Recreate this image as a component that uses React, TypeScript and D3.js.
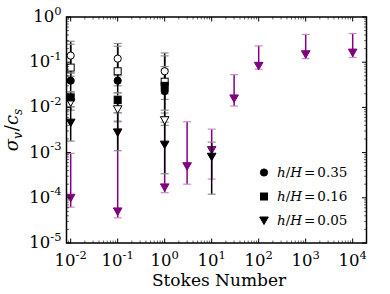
import React from "react";
import * as d3 from "d3";

// black runs (three heights), Stokes 0.01 .. 1
const stokesBlack = [0.01, 0.1, 1];
const openCircle = [0.14, 0.12, 0.063];
const openCircleLo = [0.058, 0.05, 0.02];
const openCircleHi = [0.29, 0.26, 0.16];
const openSquare = [0.076, 0.063, 0.037];
const openSquareLo = [0.049, 0.03, 0.015];
const openSquareHi = [0.25, 0.225, 0.138];
const openTri = [0.0129, 0.0091, 0.0052];
const openTriLo = [0.0087, 0.0048, 0.004];
const openTriHi = [0.0197, 0.021, 0.0075];
const fillCircle = [0.039, 0.039, 0.023];
const fillCircleLo = [0.022, 0.021, 0.0062];
const fillCircleHi = [0.058, 0.07, 0.07];
const fillSquare = [0.0166, 0.0145, 0.03];
const fillSquareLo = [0.0103, 0.0076, 0.0087];
const fillSquareHi = [0.022, 0.018, 0.08];
const stokesTri = [0.01, 0.1, 1, 10];
const fillTri = [0.0046, 0.0028, 0.0015, 0.00081];
const fillTriLo = [0.0018, 0.0011, 0.00034, 0.00012];
const fillTriHi = [0.0103, 0.0076, 0.0047, 0.0017];

// purple run
const stokesPurple = [0.01, 0.1, 1, 3, 10, 30, 100, 1000, 10000];
const purple = [0.0001, 0.00005, 0.00017, 0.0005, 0.00114, 0.0158, 0.083, 0.15, 0.163];
const purpleLo = [0.000062, 0.000036, 0.00013, 0.0002, 0.00026, 0.0107, 0.07, 0.12, 0.127];
const purpleHi = [0.00096, 0.005, 0.0062, 0.0048, 0.0033, 0.053, 0.23, 0.41, 0.43];

const xTicks = [-2, -1, 0, 1, 2, 3, 4];
const yTicks = [0, -1, -2, -3, -4, -5];
const legendLabels = ["0.35", "0.16", "0.05"];

const W = 390;
const H = 294;
const L = 66.5, R = 366.5, T = 17, B = 243;
const serif = "'DejaVu Serif', serif";
const PURPLE = "#800080";

const x = d3.scaleLog().domain([Math.pow(10, -2.089), Math.pow(10, 4.294)]).range([L, R]);
const y = d3.scaleLog().domain([1e-5, 1]).range([B, T]);

type Shape = "circle" | "square" | "tri";

function marker(shape: Shape, cx: number, cy: number, fill: string, stroke: string, key: string) {
  if (shape === "circle")
    return <circle key={key} cx={cx} cy={cy} r={3.6} fill={fill} stroke={stroke} strokeWidth={1} />;
  if (shape === "square")
    return <rect key={key} x={cx - 3.5} y={cy - 3.5} width={7} height={7} fill={fill} stroke={stroke} strokeWidth={1} />;
  return (
    <path key={key} d={`M${cx - 4.3},${cy - 3.5}L${cx + 4.3},${cy - 3.5}L${cx},${cy + 4}Z`} fill={fill} stroke={stroke} strokeWidth={1} />
  );
}

function errorBars(xs: number[], lo: number[], hi: number[], color: string, capColor: string, key: string) {
  return xs.map((s, i) => {
    const px = x(s);
    return (
      <g key={key + i}>
        <line x1={px} x2={px} y1={y(lo[i])} y2={y(hi[i])} stroke={color} strokeWidth={1.5} />
        <line x1={px - 4} x2={px + 4} y1={y(lo[i])} y2={y(lo[i])} stroke={capColor} strokeWidth={1.2} />
        <line x1={px - 4} x2={px + 4} y1={y(hi[i])} y2={y(hi[i])} stroke={capColor} strokeWidth={1.2} />
      </g>
    );
  });
}

function points(xs: number[], vals: number[], shape: Shape, fill: string, stroke: string, key: string) {
  return xs.map((s, i) => marker(shape, x(s), y(vals[i]), fill, stroke, key + i));
}

export default function App() {
  // minor ticks 2..9 per decade
  const minorX: number[] = [];
  for (let e = -3; e <= 4; e++) for (let m = 2; m <= 9; m++) {
    const v = m * Math.pow(10, e);
    if (x(v) > L && x(v) < R) minorX.push(v);
  }
  const minorY: number[] = [];
  for (let e = -5; e < 0; e++) for (let m = 2; m <= 9; m++) minorY.push(m * Math.pow(10, e));

  const blackSeries: [number[], number[], number[], number[], Shape, string][] = [
    [stokesBlack, openCircle, openCircleLo, openCircleHi, "circle", "white"],
    [stokesBlack, openSquare, openSquareLo, openSquareHi, "square", "white"],
    [stokesBlack, openTri, openTriLo, openTriHi, "tri", "white"],
    [stokesBlack, fillCircle, fillCircleLo, fillCircleHi, "circle", "black"],
    [stokesBlack, fillSquare, fillSquareLo, fillSquareHi, "square", "black"],
    [stokesTri, fillTri, fillTriLo, fillTriHi, "tri", "black"],
  ];

  return (
    <svg width={W} height={H} style={{ position: "absolute", left: 0, top: 0, background: "white" }} fontFamily={serif}>
      {/* purple first, black on top */}
      {errorBars(stokesPurple, purpleLo, purpleHi, PURPLE, "#c98ac9", "pe")}
      {points(stokesPurple, purple, "tri", PURPLE, PURPLE, "pp")}
      {blackSeries.map((s, k) => errorBars(s[0], s[2], s[3], "black", "#8c8c8c", "be" + k))}
      {blackSeries.map((s, k) => points(s[0], s[1], s[4], s[5], "black", "bp" + k))}

      {/* ticks, inward on all four sides */}
      {xTicks.map((e) => {
        const px = x(Math.pow(10, e));
        return (
          <g key={"xt" + e}>
            <line x1={px} x2={px} y1={B} y2={B - 4.5} stroke="black" />
            <line x1={px} x2={px} y1={T} y2={T + 4.5} stroke="black" />
            <text x={px} y={266} textAnchor="middle" fontSize={16.5}>
              10<tspan dy={-7.5} fontSize={11.5}>{e}</tspan>
            </text>
          </g>
        );
      })}
      {minorX.map((v, i) => (
        <g key={"xm" + i}>
          <line x1={x(v)} x2={x(v)} y1={B} y2={B - 2.5} stroke="black" strokeWidth={0.6} />
          <line x1={x(v)} x2={x(v)} y1={T} y2={T + 2.5} stroke="black" strokeWidth={0.6} />
        </g>
      ))}
      {yTicks.map((e) => {
        const py = y(Math.pow(10, e));
        return (
          <g key={"yt" + e}>
            <line x1={L} x2={L + 4.5} y1={py} y2={py} stroke="black" />
            <line x1={R} x2={R - 4.5} y1={py} y2={py} stroke="black" />
            <text x={61.5} y={py + 5} textAnchor="end" fontSize={16.5}>
              10<tspan dy={-7.5} fontSize={11.5}>{e}</tspan>
            </text>
          </g>
        );
      })}
      {minorY.map((v, i) => (
        <g key={"ym" + i}>
          <line x1={L} x2={L + 2.5} y1={y(v)} y2={y(v)} stroke="black" strokeWidth={0.6} />
          <line x1={R} x2={R - 2.5} y1={y(v)} y2={y(v)} stroke="black" strokeWidth={0.6} />
        </g>
      ))}
      <rect x={L} y={T} width={R - L} height={B - T} fill="none" stroke="black" strokeWidth={1.5} />

      {/* axis titles */}
      <text x={219} y={286} textAnchor="middle" fontSize={17}>Stokes Number</text>
      <text transform={`translate(18,${(T + B) / 2}) rotate(-90)`} textAnchor="middle" fontSize={18}>
        <tspan fontStyle="italic">σ</tspan>
        <tspan fontStyle="italic" fontSize={12} dy={4}>v</tspan>
        <tspan dy={-4} dx={1}>/</tspan>
        <tspan fontStyle="italic">c</tspan>
        <tspan fontStyle="italic" fontSize={12} dy={4}>s</tspan>
      </text>

      {/* legend */}
      {legendLabels.map((lab, i) => {
        const ly = 172.5 + i * 24;
        const shape: Shape = i === 0 ? "circle" : i === 1 ? "square" : "tri";
        return (
          <g key={"lg" + i}>
            {marker(shape, 264, ly, "black", "black", "lm" + i)}
            <text x={277} y={ly + 4.5} fontSize={13.5}>
              <tspan fontStyle="italic">h</tspan>
              <tspan>/</tspan>
              <tspan fontStyle="italic">H</tspan>
              <tspan dx={2}>=</tspan>
              <tspan dx={2}>{lab}</tspan>
            </text>
          </g>
        );
      })}
    </svg>
  );
}
